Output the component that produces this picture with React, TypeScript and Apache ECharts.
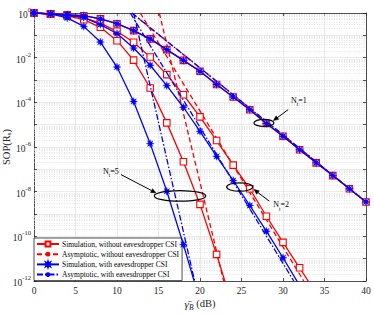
import React, { useEffect, useRef } from 'react';
import * as echarts from 'echarts';

// SNR grid (dB)
const SNR_DB = [0, 2, 4, 6, 8, 10, 12, 14, 16, 18, 20, 22, 24, 26, 28, 30, 32, 34, 36, 38, 40];

// log10(SOP)
const SIM_NO_CSI_NT1 = [0, -0.04, -0.08, -0.12, -0.26, -0.48, -0.79, -1.16, -1.64, -2.12, -2.61, -3.2, -3.76, -4.33, -4.95, -5.52, -6.12, -6.71, -7.28, -7.87, -8.46];
const SIM_NO_CSI_NT2 = [0, -0.04, -0.1, -0.22, -0.45, -0.82, -1.31, -1.97, -2.76, -3.66, -4.65, -5.71, -6.81, -7.87, -9.1, -10.27, -11.41, -12.55];
const SIM_NO_CSI_NT5 = [0, -0.04, -0.13, -0.3, -0.64, -1.24, -2.11, -3.36, -4.92, -6.66, -8.57, -10.81, -13.2];
const SIM_CSI_NT1 = [0, -0.04, -0.08, -0.12, -0.26, -0.48, -0.79, -1.16, -1.64, -2.12, -2.61, -3.2, -3.76, -4.33, -4.95, -5.52, -6.12, -6.71, -7.28, -7.87, -8.46];
const SIM_CSI_NT2 = [0, -0.04, -0.1, -0.2, -0.52, -0.92, -1.57, -2.34, -3.25, -4.22, -5.3, -6.42, -7.5, -8.62, -9.77, -10.96, -12.2];
const SIM_CSI_NT5 = [0, -0.04, -0.22, -0.6, -1.3, -2.42, -3.96, -5.85, -7.98, -10.37, -12.9];

// Asymptotic lines: [dB, log10(SOP)] end points
const ASY_NO_CSI_NT1 = [[11.8, 0], [40, -8.46]];
const ASY_NO_CSI_NT2 = [[12.8, 0], [32.5, -12]];
const ASY_NO_CSI_NT5 = [[15.1, 0], [22.85, -12]];
const ASY_CSI_NT1 = [[11.8, 0], [40, -8.46]];
const ASY_CSI_NT2 = [[11.6, 0], [31.3, -12]];
const ASY_CSI_NT5 = [[12.0, 0], [19.35, -12]];

const X_TICKS = { min: 0, max: 40, step: 5 };
const Y_TICKS = { min: -12, max: 0, step: 1 };

const LEG_SIM_NO = 'Simulation, without eavesdropper CSI';
const LEG_ASY_NO = 'Asymptotic, without eavesdropper CSI';
const LEG_SIM_CSI = 'Simulation, with eavesdropper CSI';
const LEG_ASY_CSI = 'Asymptotic, with eavesdropper CSI';

// annotation: ellipse centre in data coords, offsets in px
const ANNOTATIONS = [
  { nt: '1', center: [27.7, -4.92], rx: 10, ry: 3.6, text: [27, -21], from: [24.3, -13.3], to: [9.5, -2.3] },
  { nt: '2', center: [24.78, -7.79], rx: 13, ry: 4.2, text: [33.6, 19.5], from: [29.6, 14.2], to: [14.3, 2.5] },
  { nt: '5', center: [17.59, -8.19], rx: 25.7, ry: 5.3, text: [-77, -23], from: [-59, -21.3], to: [-24, -3] },
];

const SERIF = "'Liberation Serif', 'Times New Roman', serif";
const RED = '#ff0000';
const BLUE = '#0000ff';
const STAR = 'path://M20 10 L14.16 11.72 L17.07 17.07 L11.72 14.16 L10 20 L8.28 14.16 L2.93 17.07 L5.84 11.72 L0 10 L5.84 8.28 L2.93 2.93 L8.28 5.84 L10 0 L11.72 5.84 L17.07 2.93 L14.16 8.28 Z';

const pairs = (vals: number[]) => vals.map((v, i) => [SNR_DB[i], v]);

function simRed(name: string, vals: number[]) {
  return {
    type: 'line', name, data: pairs(vals), symbol: 'rect', symbolSize: 6.5,
    lineStyle: { color: RED, width: 1.3 },
    itemStyle: { color: '#fff', borderColor: RED, borderWidth: 1.1 },
    z: 3,
  };
}
function simBlue(name: string, vals: number[]) {
  return {
    type: 'line', name, data: pairs(vals), symbol: STAR, symbolSize: 8,
    lineStyle: { color: BLUE, width: 1.3 },
    itemStyle: { color: BLUE, borderColor: BLUE, borderWidth: 0.3 },
    z: 5,
  };
}
function asy(name: string, pts: number[][], color: string, dash: number[], z: number) {
  return {
    type: 'line', name, data: pts, symbol: 'none',
    lineStyle: { color, width: 1.3, type: dash },
    itemStyle: { color },
    z,
  };
}

export default function App() {
  const ref = useRef<HTMLDivElement>(null);
  useEffect(() => {
    document.body.style.margin = '0';
    const chart = echarts.init(ref.current!, null, { renderer: 'svg' });

    const minorLines: any[] = [];
    for (let k = Y_TICKS.min; k < Y_TICKS.max; k++) {
      for (let m = 2; m <= 9; m++) minorLines.push({ yAxis: k + Math.log10(m) });
    }

    const axisLineStyle = { color: '#262626', width: 0.8 };
    const supRich = {
      b: { fontSize: 9.5, fontFamily: SERIF, color: '#262626', verticalAlign: 'bottom', lineHeight: 14 },
      s: { fontSize: 6.5, fontFamily: SERIF, color: '#262626', verticalAlign: 'top', lineHeight: 14 },
    };

    const dashRed = [5, 3];
    const dashBlue = [6, 2, 1.5, 2];

    chart.setOption({
      animation: false,
      backgroundColor: '#fff',
      grid: { left: 34, right: 8, top: 13, bottom: 34, containLabel: false, outerBoundsMode: 'none' },
      legend: {
        data: [LEG_SIM_NO, LEG_ASY_NO, LEG_SIM_CSI, LEG_ASY_CSI],
        orient: 'vertical', left: 34, top: 238,
        itemWidth: 22, itemHeight: 6, itemGap: 2.2,
        padding: [2, 3, 2, 2],
        backgroundColor: '#fff', borderColor: '#000', borderWidth: 0.7,
        textStyle: { fontSize: 7.5, fontFamily: SERIF, color: '#000', padding: [0, 0, 0, -2] },
        selectedMode: false,
      },
      xAxis: [
        {
          type: 'value', min: X_TICKS.min, max: X_TICKS.max, interval: X_TICKS.step,
          axisLine: { show: true, onZero: false, lineStyle: axisLineStyle },
          axisTick: { show: true, inside: true, length: 3, lineStyle: axisLineStyle },
          axisLabel: { fontSize: 9.5, fontFamily: SERIF, color: '#262626', margin: 5 },
          splitLine: { show: true, lineStyle: { color: '#e2e2e2', width: 0.7 } },
          name: '{g|\u03B3\u0304}{u|B}{a| (dB)}', nameLocation: 'middle', nameGap: 17,
          nameMoveOverlap: false,
          nameTextStyle: {
            rich: {
              g: { fontSize: 11, fontFamily: SERIF, fontStyle: 'italic', color: '#262626', verticalAlign: 'top', lineHeight: 13 },
              u: { fontSize: 7.5, fontFamily: SERIF, fontStyle: 'italic', color: '#262626', verticalAlign: 'bottom', lineHeight: 13 },
              a: { fontSize: 10.5, fontFamily: SERIF, color: '#262626', verticalAlign: 'top', lineHeight: 13 },
            },
          },
        },
        {
          type: 'value', position: 'top', min: X_TICKS.min, max: X_TICKS.max, interval: X_TICKS.step,
          axisLine: { show: true, onZero: false, lineStyle: axisLineStyle },
          axisTick: { show: true, inside: true, length: 3, lineStyle: axisLineStyle },
          axisLabel: { show: false }, splitLine: { show: false },
        },
      ],
      yAxis: [
        {
          type: 'value', min: Y_TICKS.min, max: Y_TICKS.max, interval: Y_TICKS.step,
          axisLine: { show: true, onZero: false, lineStyle: axisLineStyle },
          axisTick: { show: true, inside: true, length: 3, lineStyle: axisLineStyle },
          axisLabel: {
            margin: 3,
            formatter: (v: number) => (Math.round(v) % 2 === 0 ? `{b|10}{s|${Math.round(v)}}` : ''),
            rich: supRich,
          },
          splitLine: { show: true, lineStyle: { color: '#e2e2e2', width: 0.7 } },
          name: '{a|SOP(R}{u|s}{a|)}', nameLocation: 'middle', nameRotate: 90, nameGap: 22,
          nameMoveOverlap: false,
          nameTextStyle: {
            rich: {
              a: { fontSize: 10.5, fontFamily: SERIF, color: '#262626', verticalAlign: 'top', lineHeight: 11 },
              u: { fontSize: 7, fontFamily: SERIF, color: '#262626', verticalAlign: 'bottom', lineHeight: 11 },
            },
          },
        },
        {
          type: 'value', position: 'right', min: Y_TICKS.min, max: Y_TICKS.max, interval: Y_TICKS.step,
          axisLine: { show: true, onZero: false, lineStyle: axisLineStyle },
          axisTick: { show: true, inside: true, length: 3, lineStyle: axisLineStyle },
          axisLabel: { show: false }, splitLine: { show: false },
        },
      ],
      series: [
        {
          type: 'line', name: 'minor-grid', data: [[-10, -20]], symbol: 'none', silent: true,
          lineStyle: { opacity: 0 }, z: 1,
          markLine: {
            silent: true, symbol: ['none', 'none'], label: { show: false }, z: 1,
            lineStyle: { color: '#d4d4d4', type: [1, 1.5], width: 0.6 },
            data: minorLines,
          },
        },
        asy(LEG_ASY_NO, ASY_NO_CSI_NT1, RED, dashRed, 2),
        asy(LEG_ASY_NO, ASY_NO_CSI_NT2, RED, dashRed, 2),
        asy(LEG_ASY_NO, ASY_NO_CSI_NT5, RED, dashRed, 2),
        simRed(LEG_SIM_NO, SIM_NO_CSI_NT1),
        simRed(LEG_SIM_NO, SIM_NO_CSI_NT2),
        simRed(LEG_SIM_NO, SIM_NO_CSI_NT5),
        asy(LEG_ASY_CSI, ASY_CSI_NT1, BLUE, dashBlue, 4),
        asy(LEG_ASY_CSI, ASY_CSI_NT2, BLUE, dashBlue, 4),
        asy(LEG_ASY_CSI, ASY_CSI_NT5, BLUE, dashBlue, 4),
        simBlue(LEG_SIM_CSI, SIM_CSI_NT1),
        simBlue(LEG_SIM_CSI, SIM_CSI_NT2),
        simBlue(LEG_SIM_CSI, SIM_CSI_NT5),
      ],
    });

    const graphics: any[] = [];
    ANNOTATIONS.forEach((a) => {
      const c = chart.convertToPixel({ xAxisIndex: 0, yAxisIndex: 0 }, a.center) as number[];
      graphics.push({
        type: 'ellipse', z: 20,
        shape: { cx: c[0], cy: c[1], rx: a.rx, ry: a.ry },
        style: { fill: 'none', stroke: '#000', lineWidth: 1.2 },
      });
      const x1 = c[0] + a.from[0], y1 = c[1] + a.from[1];
      const x2 = c[0] + a.to[0], y2 = c[1] + a.to[1];
      const dx = x2 - x1, dy = y2 - y1;
      const len = Math.hypot(dx, dy);
      const ux = dx / len, uy = dy / len;
      const hl = 5, hw = 2.2;
      const bx = x2 - ux * hl, by = y2 - uy * hl;
      graphics.push({
        type: 'line', z: 20,
        shape: { x1, y1, x2: bx, y2: by },
        style: { stroke: '#000', lineWidth: 1 },
      });
      graphics.push({
        type: 'polygon', z: 20,
        shape: { points: [[x2, y2], [bx - uy * hw, by + ux * hw], [bx + uy * hw, by - ux * hw]] },
        style: { fill: '#000', stroke: '#000', lineWidth: 0.5 },
      });
      graphics.push({
        type: 'text', z: 21,
        x: c[0] + a.text[0], y: c[1] + a.text[1],
        style: {
          text: `{n|N}{s|t}{n|=${a.nt}}`,
          verticalAlign: 'middle', align: 'left',
          rich: {
            n: { fontSize: 8, fontFamily: SERIF, fill: '#000', verticalAlign: 'top', lineHeight: 11 },
            s: { fontSize: 5.5, fontFamily: SERIF, fill: '#000', verticalAlign: 'bottom', lineHeight: 11 },
          },
        },
      });
    });
    chart.setOption({ graphic: graphics });

    return () => chart.dispose();
  }, []);
  return <div ref={ref} style={{ width: 374, height: 315 }} />;
}
